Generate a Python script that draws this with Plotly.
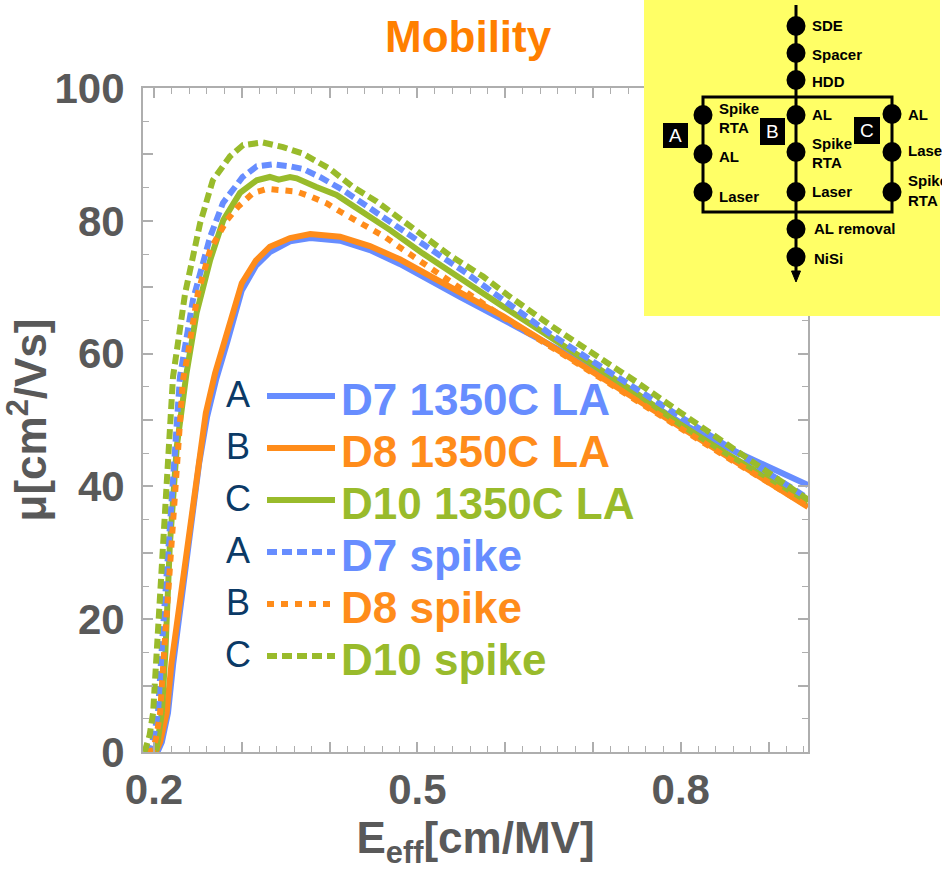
import plotly.graph_objects as go

# ---------------- data ----------------
d7_la_x = [0.198, 0.205, 0.209, 0.216, 0.222, 0.229, 0.237, 0.2445, 0.2515, 0.2605, 0.271, 0.284, 0.300, 0.316, 0.332, 0.355, 0.378, 0.412, 0.446, 0.480, 0.514, 0.549, 0.598, 0.647, 0.70, 0.75, 0.80, 0.85, 0.90, 0.945]
d7_la_y = [0.0, 0.3, 1.5, 5.9, 13.4, 20.9, 28.5, 36.0, 43.5, 50.5, 56.2, 62.0, 69.5, 73.2, 75.3, 76.9, 77.4, 77.0, 75.6, 73.5, 71.0, 68.5, 65.1, 61.6, 57.8, 53.8, 49.6, 46.0, 43.0, 40.2]

d8_la_x = [0.196, 0.203, 0.207, 0.2145, 0.220, 0.2275, 0.2353, 0.243, 0.250, 0.259, 0.2695, 0.283, 0.300, 0.316, 0.332, 0.355, 0.378, 0.412, 0.446, 0.480, 0.514, 0.549, 0.598, 0.647, 0.70, 0.75, 0.80, 0.85, 0.90, 0.945]
d8_la_y = [0.0, 0.3, 1.5, 5.9, 13.4, 20.9, 28.5, 36.0, 43.5, 51.0, 57.0, 63.0, 70.6, 74.0, 76.1, 77.4, 78.0, 77.6, 76.2, 74.2, 71.7, 69.1, 65.6, 61.6, 57.2, 53.2, 49.0, 44.8, 40.6, 36.9]

d10_la_x = [0.195, 0.203, 0.209, 0.213, 0.218, 0.226, 0.237, 0.2485, 0.264, 0.279, 0.298, 0.317, 0.332, 0.342, 0.355, 0.3625, 0.385, 0.408, 0.4345, 0.469, 0.506, 0.545, 0.5975, 0.65, 0.70, 0.75, 0.80, 0.85, 0.90, 0.945]
d10_la_y = [0.0, 0.5, 6.0, 15.0, 31.0, 46.0, 57.0, 66.1, 74.1, 80.1, 84.2, 86.1, 86.6, 86.2, 86.6, 86.4, 85.1, 83.9, 81.6, 78.6, 75.1, 71.6, 67.1, 62.6, 58.3, 54.0, 49.3, 45.1, 41.3, 37.7]

d7_spike_x = [0.190, 0.1955, 0.200, 0.2046, 0.210, 0.216, 0.223, 0.2296, 0.2444, 0.264, 0.2786, 0.301, 0.317, 0.3355, 0.355, 0.370, 0.389, 0.4155, 0.446, 0.4765, 0.506, 0.522, 0.556, 0.6017, 0.651, 0.70, 0.75, 0.80, 0.85, 0.90, 0.945]
d7_spike_y = [0.0, 0.3, 2.5, 5.9, 18.0, 30.9, 45.0, 56.5, 68.1, 77.6, 82.7, 86.6, 88.2, 88.5, 88.2, 87.8, 86.6, 84.6, 81.9, 79.1, 76.6, 75.1, 72.1, 67.6, 63.0, 58.8, 54.7, 50.5, 46.3, 42.0, 38.2]

d8_spike_x = [0.192, 0.199, 0.203, 0.207, 0.213, 0.220, 0.227, 0.233, 0.2387, 0.250, 0.264, 0.283, 0.2957, 0.313, 0.329, 0.3455, 0.3625, 0.3796, 0.397, 0.412, 0.430, 0.447, 0.464, 0.480, 0.497, 0.513, 0.5315, 0.546, 0.60, 0.65, 0.70, 0.75, 0.80, 0.85, 0.90, 0.945]
d8_spike_y = [0.0, 0.3, 2.5, 5.9, 18.0, 30.9, 45.0, 56.0, 60.0, 69.1, 75.6, 80.1, 82.1, 84.2, 84.8, 84.7, 84.4, 83.6, 82.6, 81.4, 80.1, 78.7, 77.5, 76.0, 74.5, 73.1, 71.5, 70.1, 65.3, 61.2, 57.0, 52.8, 48.6, 44.6, 40.6, 37.0]

d10_spike_x = [0.188, 0.190, 0.195, 0.199, 0.204, 0.210, 0.216, 0.2217, 0.2355, 0.2525, 0.267, 0.2866, 0.3015, 0.317, 0.324, 0.347, 0.370, 0.4005, 0.4267, 0.4536, 0.4836, 0.506, 0.537, 0.575, 0.603, 0.6545, 0.708, 0.75, 0.80, 0.85, 0.90, 0.945]
d10_spike_y = [0.0, 0.3, 2.5, 5.9, 17.0, 30.9, 45.0, 56.5, 69.1, 79.6, 86.1, 89.7, 91.4, 91.7, 91.8, 91.1, 90.1, 87.8, 85.1, 82.9, 79.9, 77.9, 74.8, 71.6, 68.8, 64.0, 59.5, 55.7, 51.1, 46.6, 42.1, 38.0]

legend_letters = ["A", "B", "C", "A", "B", "C"]
legend_labels = ["D7 1350C LA", "D8 1350C LA", "D10 1350C LA", "D7 spike", "D8 spike", "D10 spike"]

x_tick_vals = [0.2, 0.3, 0.4, 0.5, 0.6, 0.7, 0.8, 0.9]
x_tick_text = ["0.2", "", "", "0.5", "", "", "0.8", ""]
y_tick_vals = [0, 10, 20, 30, 40, 50, 60, 70, 80, 90, 100]
y_tick_text = ["0", "", "20", "", "40", "", "60", "", "80", "", "100"]

# ---------------- style ----------------
BLUE = "#678DFF"
ORANGE = "#FF8C1A"
GREEN = "#99BB2B"
NAVY = "#0B3A66"
GREY_TXT = "#595959"
AX = "#AEAEAE"
FONT = "Liberation Sans, Arial, sans-serif"

W, H = 942, 880
L, R, T, B = 143, 808, 88, 752


def px(x):
    return (x - L) / (R - L)


def py(y):
    return (B - y) / (B - T)


series = [
    (d7_la_x, d7_la_y, BLUE, "solid"),
    (d8_la_x, d8_la_y, ORANGE, "solid"),
    (d10_la_x, d10_la_y, GREEN, "solid"),
    (d7_spike_x, d7_spike_y, BLUE, "10px,5px"),
    (d8_spike_x, d8_spike_y, ORANGE, "7px,7px"),
    (d10_spike_x, d10_spike_y, GREEN, "10px,5px"),
]

fig = go.Figure()
for (xs, ys, col, dash), name in zip(series, legend_labels):
    fig.add_trace(go.Scatter(x=xs, y=ys, mode="lines", name=name,
                             line=dict(color=col, width=6, dash=dash),
                             showlegend=False, hoverinfo="skip"))

shapes = []
annotations = []

# title
annotations.append(dict(x=px(468), y=py(37), xref="paper", yref="paper",
                        text="<b>Mobility</b>", showarrow=False,
                        font=dict(family=FONT, size=44, color="#FF7F00"),
                        xanchor="center", yanchor="middle"))

# custom legend
row_y = [396, 448, 500, 552, 604, 656]
for i, (letter, label) in enumerate(zip(legend_letters, legend_labels)):
    col, dash = series[i][2], series[i][3]
    yy = row_y[i]
    annotations.append(dict(x=px(238), y=py(yy - 2), xref="paper", yref="paper",
                            text=letter, showarrow=False,
                            font=dict(family=FONT, size=36, color=NAVY),
                            xanchor="center", yanchor="middle"))
    shapes.append(dict(type="line", xref="paper", yref="paper",
                       x0=px(267), x1=px(335), y0=py(yy), y1=py(yy),
                       line=dict(color=col, width=6, dash=dash)))
    annotations.append(dict(x=px(339), y=py(yy + 3), xref="paper", yref="paper",
                            text="<b>%s</b>" % label, showarrow=False,
                            font=dict(family=FONT, size=44, color=col),
                            xanchor="left", yanchor="middle"))

# ---------------- inset process-flow diagram ----------------
shapes.append(dict(type="rect", xref="paper", yref="paper", layer="above",
                   x0=px(644), x1=px(940), y0=py(0), y1=py(316),
                   fillcolor="#FFFF66", line=dict(width=0)))
shapes.append(dict(type="line", xref="paper", yref="paper", layer="above",
                   x0=px(796), x1=px(796), y0=py(5), y1=py(272),
                   line=dict(color="black", width=3)))
shapes.append(dict(type="path", xref="paper", yref="paper", layer="above",
                   path="M %f %f L %f %f L %f %f Z" % (px(791.5), py(271), px(800.5), py(271), px(796), py(282)),
                   fillcolor="black", line=dict(color="black", width=1)))
shapes.append(dict(type="rect", xref="paper", yref="paper", layer="above",
                   x0=px(703), x1=px(892), y0=py(97), y1=py(212),
                   line=dict(color="black", width=3)))

dots = [(796, v) for v in [26, 53, 80, 115, 152, 192, 229, 257]] + \
       [(703, v) for v in [115, 154, 192]] + [(892, v) for v in [114, 152, 192]]
for cx, cy in dots:
    shapes.append(dict(type="circle", xref="paper", yref="paper", layer="above",
                       x0=px(cx - 9.5), x1=px(cx + 9.5), y0=py(cy - 10), y1=py(cy + 10),
                       fillcolor="black", line=dict(width=0)))

inset_labels = [
    (810, 26, "SDE"), (810, 54, "Spacer"), (810, 81, "HDD"),
    (810, 115, "AL"), (810, 143, "Spike"), (810, 162, "RTA"), (810, 192, "Laser"),
    (812, 229, "AL removal"), (812, 258, "NiSi"),
    (717, 109, "Spike"), (717, 128, "RTA"), (717, 157, "AL"), (717, 196, "Laser"),
    (906, 114, "AL"), (906, 150, "Laser"), (906, 181, "Spike"), (906, 200, "RTA"),
]
for lx, ly, t in inset_labels:
    annotations.append(dict(x=px(lx), y=py(ly), xref="paper", yref="paper",
                            text="<b>%s</b>" % t, showarrow=False,
                            font=dict(family=FONT, size=15, color="black"),
                            xanchor="left", yanchor="middle"))

boxes = [("A", 663, 123, 688, 148), ("B", 760, 118, 785, 145), ("C", 854, 117, 880, 144)]
for t, x0, y0, x1, y1 in boxes:
    shapes.append(dict(type="rect", xref="paper", yref="paper", layer="above",
                       x0=px(x0), x1=px(x1), y0=py(y0), y1=py(y1),
                       fillcolor="black", line=dict(width=0)))
    annotations.append(dict(x=px((x0 + x1) / 2), y=py((y0 + y1) / 2), xref="paper", yref="paper",
                            text=t, showarrow=False,
                            font=dict(family=FONT, size=19, color="white"),
                            xanchor="center", yanchor="middle"))

fig.update_layout(
    width=W, height=H,
    margin=dict(l=L, r=W - R, t=T, b=H - B),
    paper_bgcolor="white", plot_bgcolor="white",
    shapes=shapes, annotations=annotations,
    font=dict(family=FONT, color=GREY_TXT),
)

fig.update_xaxes(
    range=[0.1875, 0.945],
    tickmode="array", tickvals=x_tick_vals, ticktext=x_tick_text,
    ticks="inside", ticklen=10, tickwidth=1.5, tickcolor=AX,
    minor=dict(tickmode="linear", tick0=0.2, dtick=0.02, ticks="inside", ticklen=6, tickwidth=1, tickcolor=AX),
    showline=True, linecolor=AX, linewidth=2, mirror="ticks",
    showgrid=False, zeroline=False,
    tickfont=dict(family=FONT, size=42, color=GREY_TXT, weight="bold"),
    title=dict(text="<b>E<sub>eff</sub>[cm/MV]</b>", font=dict(family=FONT, size=44, color=GREY_TXT), standoff=8),
)
fig.update_yaxes(
    range=[0, 100],
    tickmode="array", tickvals=y_tick_vals, ticktext=y_tick_text,
    ticks="inside", ticklen=10, tickwidth=1.5, tickcolor=AX,
    minor=dict(tickmode="linear", tick0=0, dtick=5, ticks="inside", ticklen=6, tickwidth=1, tickcolor=AX),
    showline=True, linecolor=AX, linewidth=2, mirror="ticks",
    showgrid=False, zeroline=False,
    tickfont=dict(family=FONT, size=42, color=GREY_TXT, weight="bold"),
    ticklabelstandoff=8,
    title=dict(text="<b>μ[cm<sup>2</sup>/Vs]</b>", font=dict(family=FONT, size=44, color=GREY_TXT), standoff=8),
)

fig.write_html("out.html")
